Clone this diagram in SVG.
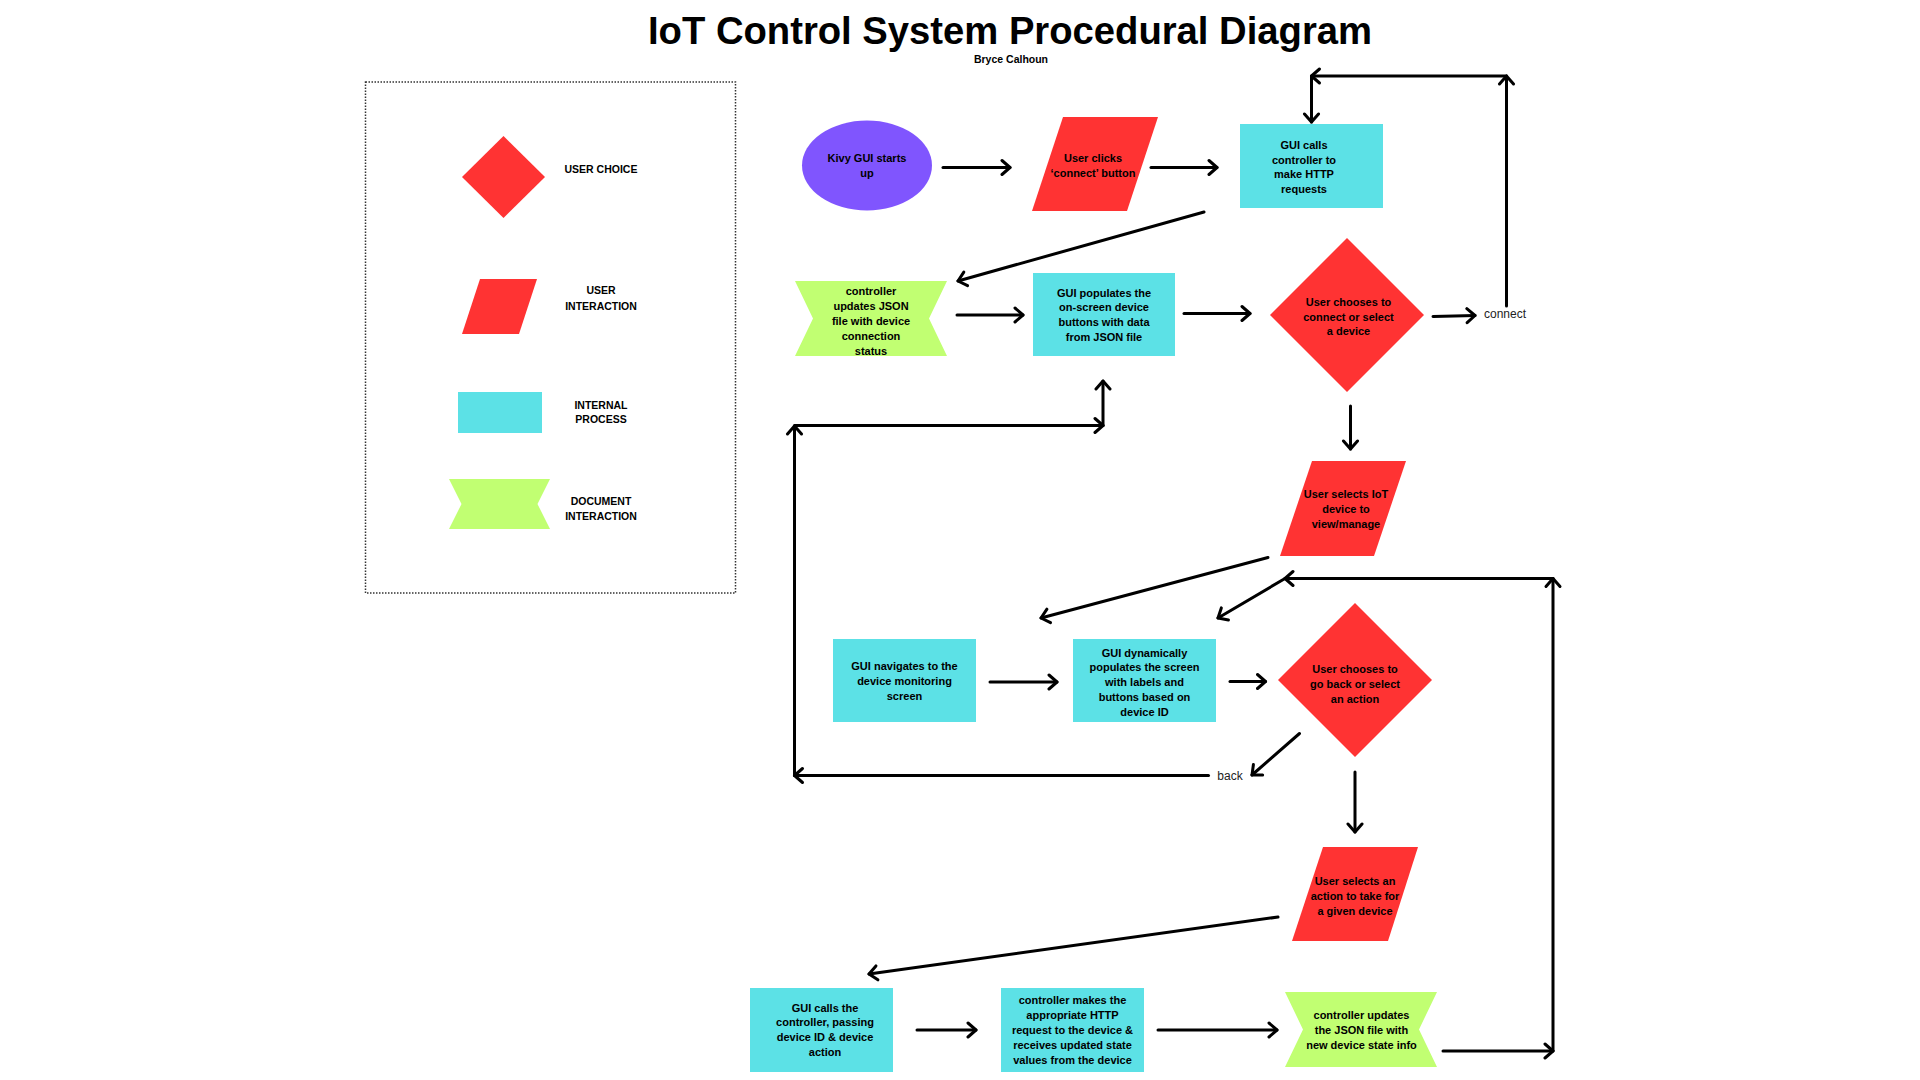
<svg xmlns="http://www.w3.org/2000/svg" width="1920" height="1080" viewBox="0 0 1920 1080">
<defs>
<style>
.t{font-family:"Liberation Sans",Arial,sans-serif;font-weight:bold;font-size:11px;fill:#000;text-anchor:middle}
.lg{font-family:"Liberation Sans",Arial,sans-serif;font-weight:bold;font-size:10.5px;fill:#000;text-anchor:middle}
.lbl{font-family:"Liberation Sans",Arial,sans-serif;font-size:12px;fill:#222;text-anchor:middle}
.red{fill:#FF3333}
.cyan{fill:#5CE1E6}
.lime{fill:#C1FF72}
.purple{fill:#8055FE}
.c{fill:none;stroke:#000;stroke-width:3;stroke-linecap:round;stroke-linejoin:round}
.a{marker-end:url(#ah)}
</style>
<marker id="ah" markerUnits="userSpaceOnUse" markerWidth="20" markerHeight="20" viewBox="-10 -10 20 20" refX="0" refY="0" orient="auto">
<path d="M-8,-7 L0,0 L-8,7" fill="none" stroke="#000" stroke-width="3" stroke-linecap="round" stroke-linejoin="round"/>
</marker>
</defs>
<rect width="1920" height="1080" fill="#fff"/>

<g id="title">
<text x="1010" y="44" font-family="'Liberation Sans',Arial,sans-serif" font-weight="bold" font-size="38" text-anchor="middle" textLength="724" lengthAdjust="spacingAndGlyphs">IoT Control System Procedural Diagram</text>
<text x="1011" y="63" class="lg">Bryce Calhoun</text>
</g>

<g id="legend">
<rect x="365.5" y="82" width="370" height="511" fill="none" stroke="#333" stroke-width="1.5" stroke-dasharray="1.5 1.5"/>
<polygon class="red" points="462,177 503.5,136 545,177 503.5,218"/>
<text class="lg" x="601" y="173">USER CHOICE</text>
<polygon class="red" points="480,279 537,279 519,334 462,334"/>
<text class="lg" x="601" y="294">USER</text>
<text class="lg" x="601" y="309.5">INTERACTION</text>
<rect class="cyan" x="458" y="392" width="84" height="41"/>
<text class="lg" x="601" y="409">INTERNAL</text>
<text class="lg" x="601" y="422.5">PROCESS</text>
<polygon class="lime" points="449,479 550,479 537.5,504 550,529 449,529 461.5,504"/>
<text class="lg" x="601" y="504.5">DOCUMENT</text>
<text class="lg" x="601" y="519.5">INTERACTION</text>
</g>

<g id="n-start">
<ellipse class="purple" cx="867" cy="165.5" rx="65" ry="45"/>
<text class="t"><tspan x="867" y="161.5">Kivy GUI starts</tspan><tspan x="867" y="176.5">up</tspan></text>
</g>
<g id="n-connect-click">
<polygon class="red" points="1063,117 1158,117 1127,211 1032,211"/>
<text class="t"><tspan x="1093" y="161.5">User clicks</tspan><tspan x="1093" y="176.5">‘connect’ button</tspan></text>
</g>
<g id="n-gui-calls">
<rect class="cyan" x="1240" y="124" width="143" height="84"/>
<text class="t"><tspan x="1304" y="148.5">GUI calls</tspan><tspan x="1304" y="163.5">controller to</tspan><tspan x="1304" y="177.5">make HTTP</tspan><tspan x="1304" y="192.5">requests</tspan></text>
</g>
<g id="n-json-status">
<polygon class="lime" points="795,281 947,281 929,318.5 947,356 795,356 813,318.5"/>
<text class="t"><tspan x="871" y="295.3">controller</tspan><tspan x="871" y="310.3">updates JSON</tspan><tspan x="871" y="325.3">file with device</tspan><tspan x="871" y="340.3">connection</tspan><tspan x="871" y="355.3">status</tspan></text>
</g>
<g id="n-populate">
<rect class="cyan" x="1033" y="273" width="142" height="83"/>
<text class="t"><tspan x="1104" y="297.3">GUI populates the</tspan><tspan x="1104" y="311.3">on-screen device</tspan><tspan x="1104" y="326.3">buttons with data</tspan><tspan x="1104" y="341">from JSON file</tspan></text>
</g>
<g id="n-choose1">
<polygon class="red" points="1270,315 1347,238 1424,315 1347,392"/>
<text class="t"><tspan x="1348.5" y="306.3">User chooses to</tspan><tspan x="1348.5" y="321.3">connect or select</tspan><tspan x="1348.5" y="335">a device</tspan></text>
</g>
<g id="n-select-device">
<polygon class="red" points="1312,461 1406,461 1374,556 1280,556"/>
<text class="t"><tspan x="1346" y="498.3">User selects IoT</tspan><tspan x="1346" y="513.3">device to</tspan><tspan x="1346" y="528">view/manage</tspan></text>
</g>
<g id="n-navigate">
<rect class="cyan" x="833" y="639" width="143" height="83"/>
<text class="t"><tspan x="904.5" y="670">GUI navigates to the</tspan><tspan x="904.5" y="685.3">device monitoring</tspan><tspan x="904.5" y="700.3">screen</tspan></text>
</g>
<g id="n-dynamic">
<rect class="cyan" x="1073" y="639" width="143" height="83"/>
<text class="t"><tspan x="1144.5" y="657.3">GUI dynamically</tspan><tspan x="1144.5" y="671.3">populates the screen</tspan><tspan x="1144.5" y="686">with labels and</tspan><tspan x="1144.5" y="701">buttons based on</tspan><tspan x="1144.5" y="715.7">device ID</tspan></text>
</g>
<g id="n-choose2">
<polygon class="red" points="1278,680 1355,603 1432,680 1355,757"/>
<text class="t"><tspan x="1355" y="673.3">User chooses to</tspan><tspan x="1355" y="688.3">go back or select</tspan><tspan x="1355" y="703">an action</tspan></text>
</g>
<g id="n-select-action">
<polygon class="red" points="1323,847 1418,847 1388,941 1292,941"/>
<text class="t"><tspan x="1355" y="885">User selects an</tspan><tspan x="1355" y="900">action to take for</tspan><tspan x="1355" y="915">a given device</tspan></text>
</g>
<g id="n-gui-calls-controller">
<rect class="cyan" x="750" y="988" width="143" height="84"/>
<text class="t"><tspan x="825" y="1012.3">GUI calls the</tspan><tspan x="825" y="1026.3">controller, passing</tspan><tspan x="825" y="1041">device ID &amp; device</tspan><tspan x="825" y="1056">action</tspan></text>
</g>
<g id="n-http-request">
<rect class="cyan" x="1001" y="988" width="143" height="84"/>
<text class="t"><tspan x="1072.5" y="1004">controller makes the</tspan><tspan x="1072.5" y="1019.3">appropriate HTTP</tspan><tspan x="1072.5" y="1034">request to the device &amp;</tspan><tspan x="1072.5" y="1049.3">receives updated state</tspan><tspan x="1072.5" y="1064">values from the device</tspan></text>
</g>
<g id="n-json-update">
<polygon class="lime" points="1285,992 1437,992 1419,1029.5 1437,1067 1285,1067 1303,1029.5"/>
<text class="t"><tspan x="1361.5" y="1019.3">controller updates</tspan><tspan x="1361.5" y="1034">the JSON file with</tspan><tspan x="1361.5" y="1049.3">new device state info</tspan></text>
</g>

<g id="connectors">
<line class="c a" x1="943" y1="167.5" x2="1010" y2="167.5"/>
<line class="c a" x1="1151" y1="167.5" x2="1217" y2="167.5"/>
<line class="c a" x1="1204" y1="212" x2="958" y2="281"/>
<line class="c a" x1="957" y1="315" x2="1023" y2="315"/>
<line class="c a" x1="1184" y1="313.5" x2="1250" y2="313.5"/>
<line class="c a" x1="1433" y1="316.5" x2="1475" y2="315.5"/>
<line class="c a" x1="1506.5" y1="306" x2="1506.5" y2="76"/>
<line class="c a" x1="1506.5" y1="76" x2="1311.5" y2="76"/>
<line class="c a" x1="1311.5" y1="76" x2="1311.5" y2="122"/>
<line class="c a" x1="1350.5" y1="406" x2="1350.5" y2="449"/>
<line class="c a" x1="794.5" y1="775.5" x2="794.5" y2="426"/>
<line class="c a" x1="794.5" y1="425.5" x2="1103" y2="425.5"/>
<line class="c a" x1="1103" y1="425.5" x2="1103" y2="381"/>
<line class="c a" x1="1268" y1="557.5" x2="1041" y2="618"/>
<line class="c a" x1="1553" y1="578.5" x2="1285" y2="578.5"/>
<line class="c a" x1="1285" y1="578.5" x2="1218" y2="618"/>
<line class="c a" x1="1553" y1="1050.5" x2="1553" y2="578.5"/>
<line class="c a" x1="990" y1="682" x2="1057" y2="682"/>
<line class="c a" x1="1230" y1="681.5" x2="1265.5" y2="681.5"/>
<line class="c a" x1="1299.5" y1="733.5" x2="1252" y2="775"/>
<line class="c a" x1="1208.5" y1="775.5" x2="794.5" y2="775.5"/>
<line class="c a" x1="1355" y1="772" x2="1355" y2="832"/>
<line class="c a" x1="1278" y1="917" x2="869" y2="974"/>
<line class="c a" x1="917" y1="1030" x2="976" y2="1030"/>
<line class="c a" x1="1158" y1="1030" x2="1277" y2="1030"/>
<line class="c a" x1="1443" y1="1051" x2="1553" y2="1051"/>
<text class="lbl" x="1505" y="317.5">connect</text>
<text class="lbl" x="1230" y="780">back</text>
</g>
</svg>
